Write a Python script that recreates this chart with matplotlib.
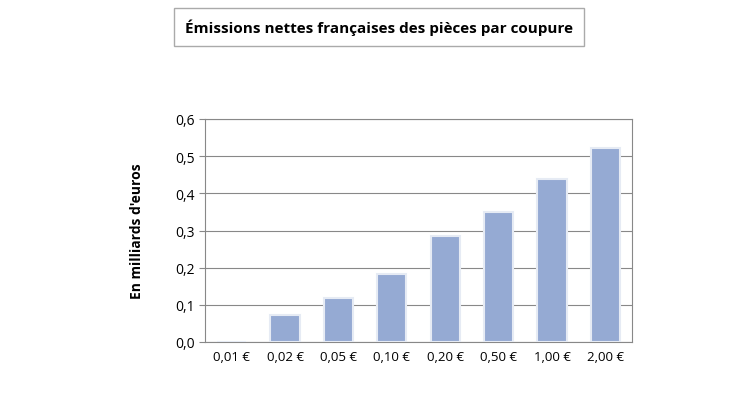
import matplotlib.pyplot as plt

coupures = ["0,01 €", "0,02 €", "0,05 €", "0,10 €", "0,20 €", "0,50 €", "1,00 €", "2,00 €"]
emissions = [0.001, 0.073, 0.118, 0.183, 0.285, 0.350, 0.438, 0.522]

plt.rcParams['font.family'] = ['Open Sans', 'DejaVu Sans']

fig = plt.figure(figsize=(7.3, 4.1), dpi=100)
ax = fig.add_axes([205 / 730, 1 - 343 / 410, 427 / 730, 223 / 410])

ax.bar(range(len(coupures)), emissions, width=0.55, color="#95aad3",
       edgecolor="#e6ebf4", linewidth=1.5, zorder=3)
ax.set_xlim(-0.5, len(coupures) - 0.5)
ax.set_ylim(0, 0.6)
ax.set_yticks([0, 0.1, 0.2, 0.3, 0.4, 0.5, 0.6])
ax.set_yticklabels(["0,0", "0,1", "0,2", "0,3", "0,4", "0,5", "0,6"], fontsize=10)
ax.set_xticks(range(len(coupures)))
ax.set_xticklabels(coupures, fontsize=9.5)
ax.tick_params(axis="x", length=0, pad=6)
ax.tick_params(axis="y", length=4, color="#888888")
ax.grid(axis="y", color="#888888", linewidth=0.8, zorder=0)
for s in ax.spines.values():
    s.set_color("#888888")
ax.set_ylabel("En milliards d'euros", fontsize=10, fontweight="bold", labelpad=22)

fig.text(379 / 730, 1 - 28 / 410, "Émissions nettes françaises des pièces par coupure",
         ha="center", va="center", fontsize=11, fontweight="bold",
         bbox=dict(boxstyle="square,pad=0.7", facecolor="white", edgecolor="#aaaaaa"))

fig.savefig("out.png", dpi=100)
